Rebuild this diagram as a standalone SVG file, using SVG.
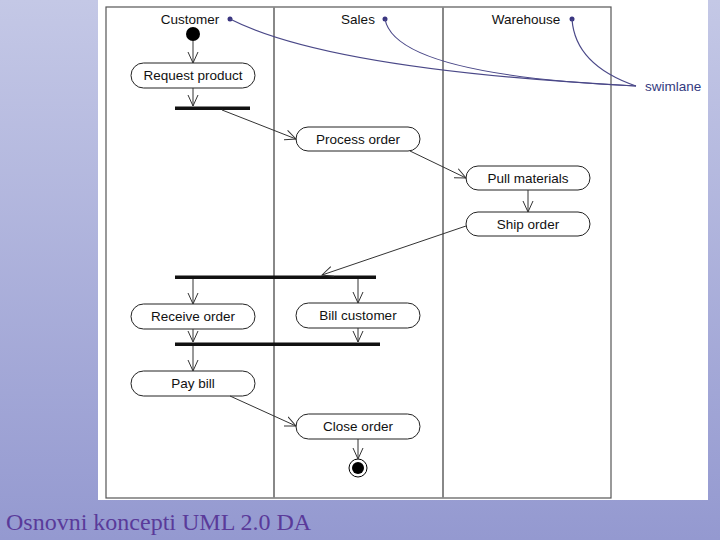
<svg xmlns="http://www.w3.org/2000/svg" width="720" height="540" viewBox="0 0 720 540">
<defs>
<linearGradient id="bg" x1="0" y1="0" x2="0" y2="1"><stop offset="0" stop-color="#c4c8e6"/><stop offset="1" stop-color="#9499d0"/></linearGradient>
<marker id="v" markerWidth="12" markerHeight="12" refX="11" refY="6" orient="auto" markerUnits="userSpaceOnUse"><path d="M0,1 L11,6 L0,11" fill="none" stroke="#333" stroke-width="1"/></marker>
</defs>
<style>
.n rect{fill:#fff;stroke:#222;stroke-width:1}
.t{font-family:"Liberation Sans",Arial,sans-serif;font-size:13.5px;fill:#111;text-anchor:middle}
.c line{stroke:#333;stroke-width:1;marker-end:url(#v)}
.bar{fill:#111}
.lane{stroke:#888;stroke-width:2;fill:none}
.note{stroke:#4a4888;stroke-width:1.2;fill:none}
</style>
<rect width="720" height="540" fill="url(#bg)"/>
<rect x="98" y="0" width="610" height="500" fill="#fff"/>
<rect x="106" y="7" width="505" height="491" fill="none" stroke="#555" stroke-width="1.2"/>
<line class="lane" x1="274" y1="7" x2="274" y2="498"/>
<line class="lane" x1="443" y1="7" x2="443" y2="498"/>
<text class="t" x="190" y="24">Customer</text>
<text class="t" x="358" y="24">Sales</text>
<text class="t" x="526" y="24">Warehouse</text>
<text x="645" y="91" font-family="Liberation Sans,Arial,sans-serif" font-size="13.5" fill="#333a80">swimlane</text>
<g id="notes">
<circle cx="230" cy="19" r="2.5" fill="#3a3580"/><circle cx="385" cy="19" r="2.5" fill="#3a3580"/><circle cx="572" cy="19" r="2.5" fill="#3a3580"/>
<path class="note" d="M230,19 Q330,70 636,86"/>
<path class="note" d="M385,19 Q395,75 636,86"/>
<path class="note" d="M572,19 Q575,65 636,86"/>
</g>
<g id="start"><circle cx="193" cy="34" r="7" fill="#000"/></g>
<g id="request" class="n"><rect x="131" y="63" width="124" height="25" rx="12.5"/><text class="t" x="193" y="80">Request product</text></g>
<g id="fork1"><rect class="bar" x="175" y="106.5" width="75" height="3.5"/></g>
<g id="process" class="n"><rect x="296" y="127" width="124" height="24" rx="12"/><text class="t" x="358" y="144">Process order</text></g>
<g id="pull" class="n"><rect x="466" y="166" width="124" height="24" rx="12"/><text class="t" x="528" y="183">Pull materials</text></g>
<g id="ship" class="n"><rect x="466" y="212" width="124" height="24" rx="12"/><text class="t" x="528" y="229">Ship order</text></g>
<g id="fork2"><rect class="bar" x="175" y="275.5" width="201" height="3.5"/></g>
<g id="receive" class="n"><rect x="131" y="304" width="124" height="25" rx="12.5"/><text class="t" x="193" y="321">Receive order</text></g>
<g id="bill" class="n"><rect x="296" y="303" width="124" height="25" rx="12.5"/><text class="t" x="358" y="320">Bill customer</text></g>
<g id="join"><rect class="bar" x="175" y="342.5" width="205" height="3.5"/></g>
<g id="pay" class="n"><rect x="131" y="371" width="124" height="25" rx="12.5"/><text class="t" x="193" y="388">Pay bill</text></g>
<g id="close" class="n"><rect x="296" y="414" width="124" height="25" rx="12.5"/><text class="t" x="358" y="431">Close order</text></g>
<g id="end"><circle cx="358" cy="468" r="9" fill="#fff" stroke="#000"/><circle cx="358" cy="468" r="6" fill="#000"/></g>
<g class="c" id="connectors">
<line x1="193" y1="41" x2="193" y2="63"/>
<line x1="193" y1="88" x2="193" y2="106"/>
<line x1="222" y1="110" x2="296" y2="139"/>
<line x1="410" y1="151" x2="466" y2="178"/>
<line x1="528" y1="190" x2="528" y2="212"/>
<line x1="466" y1="226" x2="322" y2="275"/>
<line x1="193" y1="279" x2="193" y2="304"/>
<line x1="358" y1="279" x2="358" y2="303"/>
<line x1="193" y1="329" x2="193" y2="342"/>
<line x1="358" y1="328" x2="358" y2="342"/>
<line x1="193" y1="346" x2="193" y2="371"/>
<line x1="230" y1="396" x2="296" y2="426"/>
<line x1="358" y1="439" x2="358" y2="459"/>
</g>
<text x="6" y="530" font-family="Liberation Serif,Times New Roman,serif" font-size="24" fill="#5a3a9a">Osnovni koncepti UML 2.0 DA</text>
</svg>
